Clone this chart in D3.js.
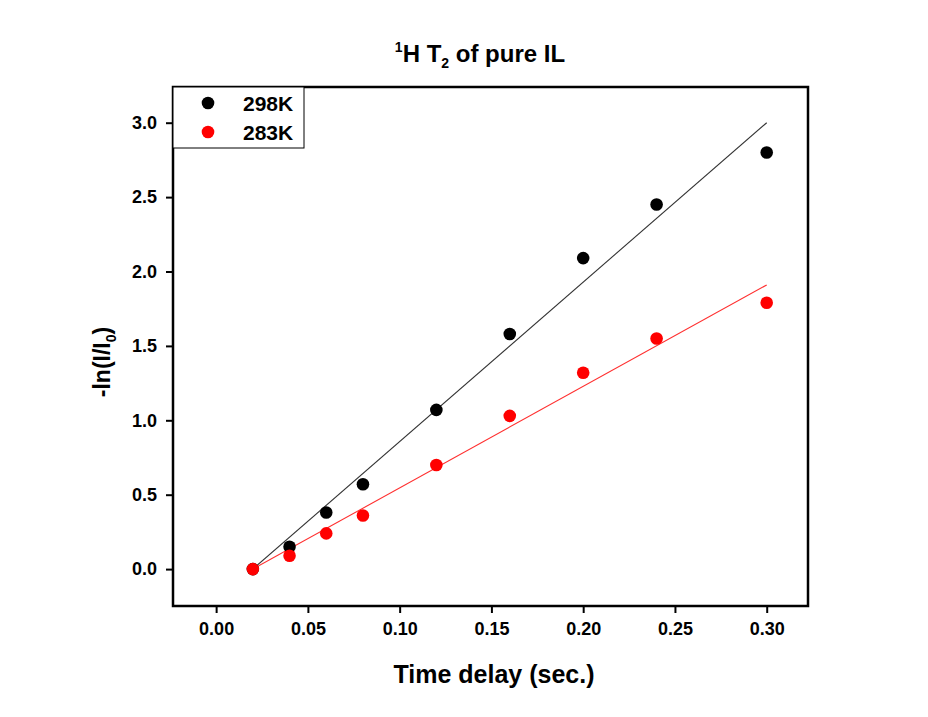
<!DOCTYPE html>
<html>
<head>
<meta charset="utf-8">
<script src="https://cdn.jsdelivr.net/npm/d3@7"></script>
<style>
  body { margin: 0; background: #fff; }
  text { font-family: Arial, "Liberation Sans", sans-serif; font-weight: bold; }
</style>
</head>
<body>
<div id="chart"></div>
<script>
// data
var delays = [0.02, 0.04, 0.06, 0.08, 0.12, 0.16, 0.20, 0.24, 0.30];
var k298 = [0, 0.15, 0.38, 0.57, 1.07, 1.58, 2.09, 2.45, 2.80];
var k283 = [0, 0.09, 0.24, 0.36, 0.70, 1.03, 1.32, 1.55, 1.79];
var fitX = [0.02, 0.30];
var fit298 = [0, 3.00];
var fit283 = [0, 1.91];
var seriesNames = ["298K", "283K"];
var xTicks = [0.00, 0.05, 0.10, 0.15, 0.20, 0.25, 0.30];
var yTicks = [0.0, 0.5, 1.0, 1.5, 2.0, 2.5, 3.0];

var W = 928, H = 717;
var margin = {top: 87, right: 120, bottom: 111, left: 173};
var width = W - margin.left - margin.right;
var height = H - margin.top - margin.bottom;

var svg = d3.select("#chart").append("svg")
    .attr("width", W)
    .attr("height", H);

var g = svg.append("g")
    .attr("transform", "translate(" + margin.left + "," + margin.top + ")");

var x = d3.scaleLinear().domain([-0.0235, 0.3225]).range([0, width]);
var y = d3.scaleLinear().domain([-0.248, 3.24]).range([height, 0]);

var xAxis = d3.axisBottom(x).tickValues(xTicks).tickFormat(d3.format(".2f")).tickSize(7).tickPadding(9);
var yAxis = d3.axisLeft(y).tickValues(yTicks).tickFormat(d3.format(".1f")).tickSize(7).tickPadding(9);

g.append("g")
    .attr("class", "axis")
    .attr("transform", "translate(0," + height + ")")
    .call(xAxis);
g.append("g")
    .attr("class", "axis")
    .call(yAxis);

g.selectAll(".axis path").remove();
g.selectAll(".axis line").attr("stroke", "#000").attr("stroke-width", 2);
g.selectAll(".axis text").attr("font-size", 18).attr("fill", "#000");

// frame
g.append("rect")
    .attr("width", width)
    .attr("height", height)
    .attr("fill", "none")
    .attr("stroke", "#000")
    .attr("stroke-width", 2.5);

var colors = ["#000000", "#ff0000"];
var lineColors = ["#333333", "#ff3030"];
var fits = [fit298, fit283];
var series = [k298, k283];

var line = d3.line()
    .x(function(d) { return x(d[0]); })
    .y(function(d) { return y(d[1]); });

fits.forEach(function(f, i) {
    g.append("path")
        .datum(fitX.map(function(v, j) { return [v, f[j]]; }))
        .attr("d", line)
        .attr("fill", "none")
        .attr("stroke", lineColors[i])
        .attr("stroke-width", 1.1);
});

series.forEach(function(s, i) {
    g.selectAll(".dot" + i)
        .data(delays.map(function(v, j) { return [v, s[j]]; }))
        .enter().append("circle")
        .attr("class", "dot" + i)
        .attr("cx", function(d) { return x(d[0]); })
        .attr("cy", function(d) { return y(d[1]); })
        .attr("r", 6.3)
        .attr("fill", colors[i]);
});

// legend
var legend = g.append("g");
legend.append("rect")
    .attr("x", 0).attr("y", 0)
    .attr("width", 131).attr("height", 61)
    .attr("fill", "#fff")
    .attr("stroke", "#000")
    .attr("stroke-width", 1);
seriesNames.forEach(function(n, i) {
    legend.append("circle")
        .attr("cx", 35).attr("cy", 16 + i * 29)
        .attr("r", 6.3).attr("fill", colors[i]);
    legend.append("text")
        .attr("x", 70).attr("y", 16 + i * 29)
        .attr("dy", "0.36em")
        .attr("font-size", 21)
        .text(n);
});

// title
var title = svg.append("text")
    .attr("x", 480).attr("y", 62)
    .attr("text-anchor", "middle")
    .attr("font-size", 24);
title.append("tspan").attr("font-size", 14).attr("dy", -10).text("1");
title.append("tspan").attr("dy", 10).text("H T");
title.append("tspan").attr("font-size", 14).attr("dy", 6).text("2");
title.append("tspan").attr("dy", -6).text(" of pure IL");

// axis titles
svg.append("text")
    .attr("x", 494).attr("y", 683)
    .attr("text-anchor", "middle")
    .attr("font-size", 25)
    .text("Time delay (sec.)");

var yl = svg.append("text")
    .attr("transform", "translate(110,362) rotate(-90)")
    .attr("text-anchor", "middle")
    .attr("font-size", 23);
yl.append("tspan").text("-ln(I/I");
yl.append("tspan").attr("font-size", 14).attr("dy", 6).text("0");
yl.append("tspan").attr("dy", -6).text(")");
</script>
</body>
</html>
